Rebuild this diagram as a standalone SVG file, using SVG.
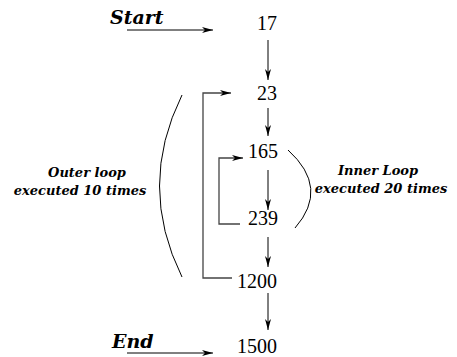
<svg xmlns="http://www.w3.org/2000/svg" width="457" height="357" viewBox="0 0 457 357">
<style>
.num{font-family:'Liberation Serif','Times New Roman',serif;font-size:20px;fill:#000;text-anchor:end}
.lbl{font-family:'DejaVu Serif',serif;font-weight:bold;font-style:italic;font-size:13px;fill:#000;text-anchor:middle}
.big{font-family:'DejaVu Serif',serif;font-weight:bold;font-style:italic;font-size:19px;fill:#000}
.arr{stroke:#000;stroke-width:1;fill:none;marker-end:url(#ah)}
.brka{stroke:#444;stroke-width:1.3;fill:none;marker-end:url(#ah)}
.arc{stroke:#000;stroke-width:1;fill:none}
</style>
<defs>
<marker id="ah" markerWidth="12" markerHeight="8" refX="11" refY="4" orient="auto" markerUnits="userSpaceOnUse">
<path d="M0,1 L11,4 L0,7 L3,4 z" fill="#000"/>
</marker>
</defs>
<g id="start"><text class="big" x="110" y="24">Start</text></g>
<g id="end"><text class="big" x="112" y="348">End</text></g>
<g id="outer"><text class="lbl" x="87" y="177">Outer loop</text><text class="lbl" x="80" y="195">executed 10 times</text></g>
<g id="inner"><text class="lbl" x="378" y="175">Inner Loop</text><text class="lbl" x="381" y="193">executed 20 times</text></g>
<g id="n17"><text class="num" x="277" y="30">17</text></g>
<g id="n23"><text class="num" x="277" y="100">23</text></g>
<g id="n165"><text class="num" x="278" y="158">165</text></g>
<g id="n239"><text class="num" x="278" y="225">239</text></g>
<g id="n1200"><text class="num" x="277" y="288">1200</text></g>
<g id="n1500"><text class="num" x="277" y="353">1500</text></g>
<g id="connectors">
<line class="arr" x1="127" y1="30" x2="213" y2="30"/>
<line class="arr" x1="127" y1="353" x2="213" y2="353"/>
<line class="arr" x1="268" y1="40" x2="268" y2="80"/>
<line class="arr" x1="268" y1="108" x2="268" y2="136"/>
<line class="arr" x1="268" y1="170" x2="268" y2="210"/>
<line class="arr" x1="268" y1="237" x2="268" y2="267"/>
<line class="arr" x1="268" y1="293" x2="268" y2="330"/>
<path class="brka" d="M232,278 L203,278 L203,93 L231,93"/>
<path class="brka" d="M240,224 L219,224 L219,158 L243,158"/>
<path class="arc" d="M182,95 Q137,186 182,277"/>
<path class="arc" d="M288,150 Q330,188 295,228"/>
</g>
</svg>
